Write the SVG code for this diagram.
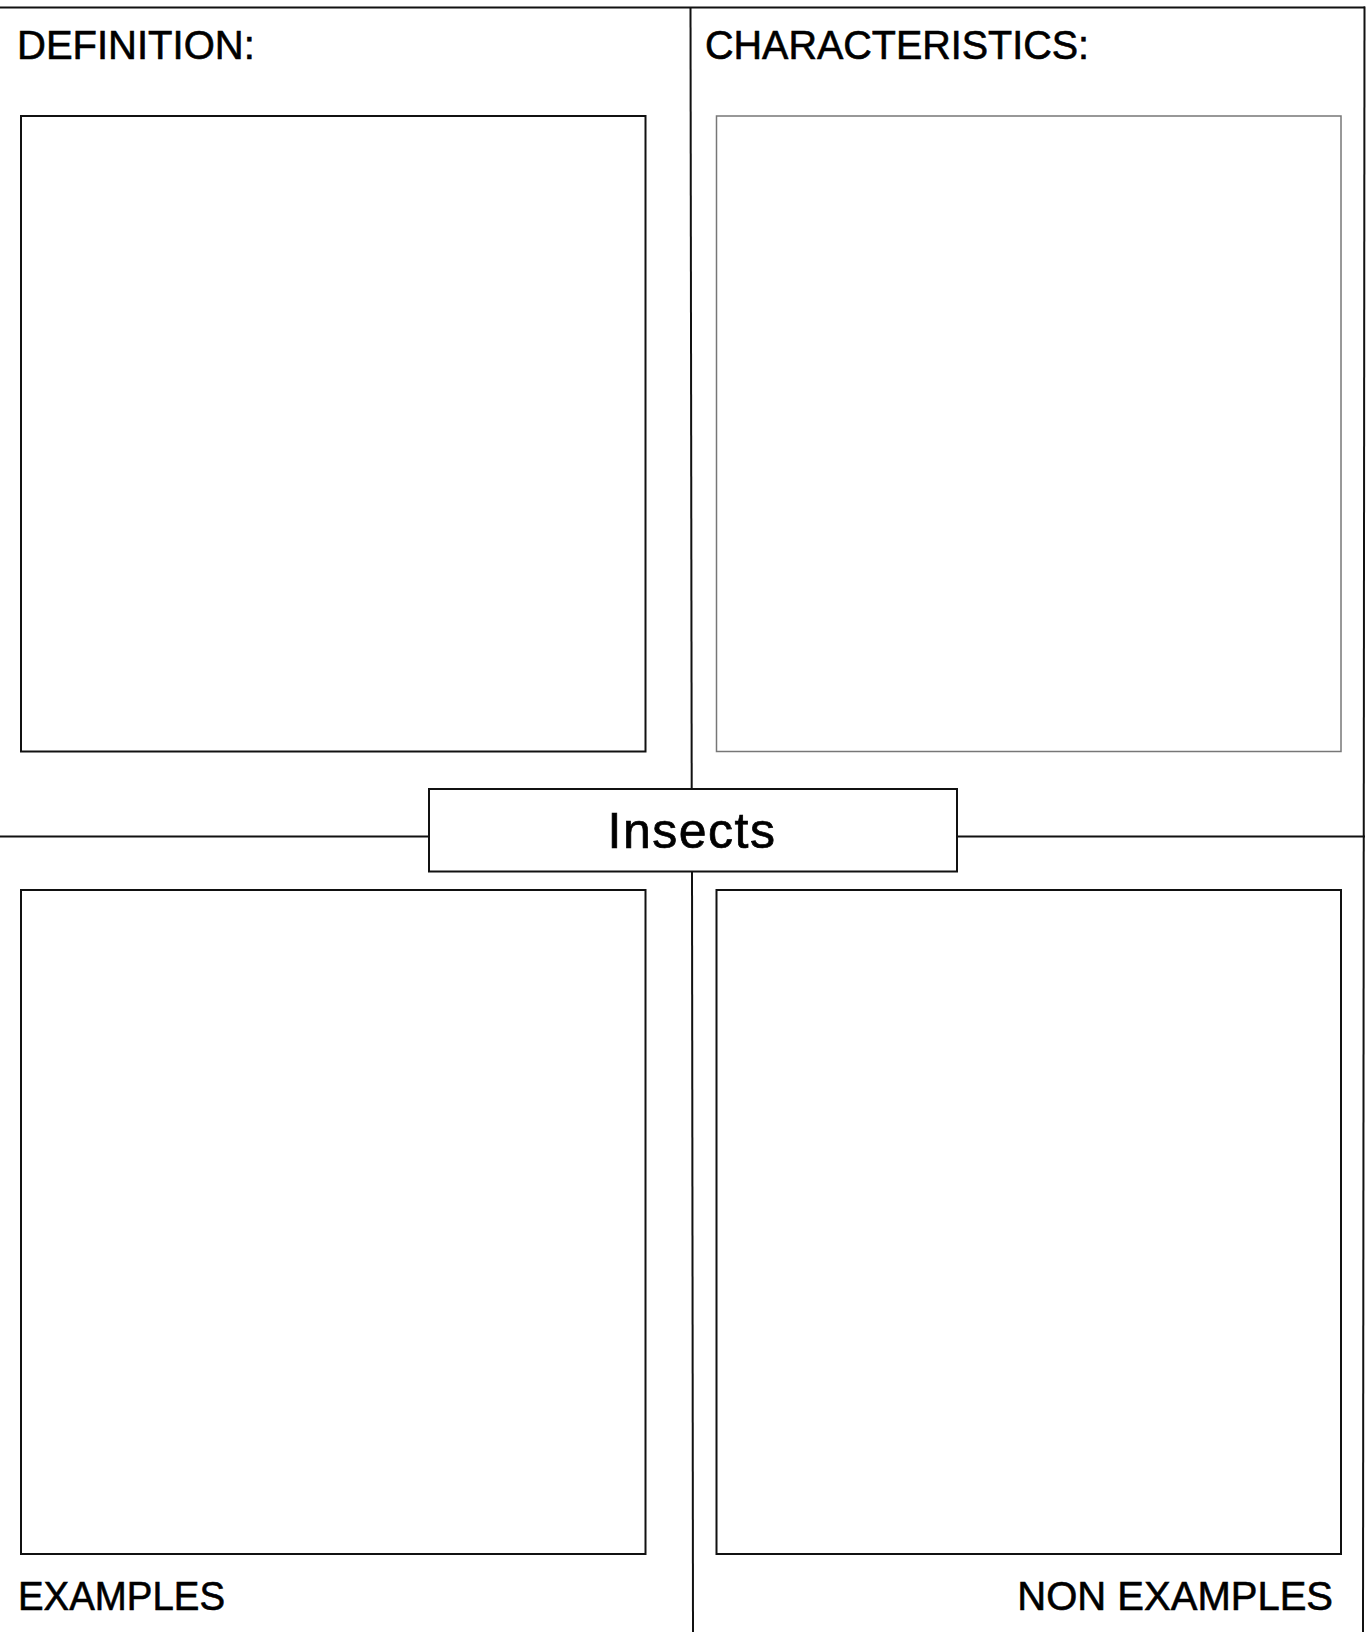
<svg xmlns="http://www.w3.org/2000/svg" width="1368" height="1632" viewBox="0 0 1368 1632">
<style>
.frame{fill:none;stroke:#111;stroke-width:2}
.box{fill:#fff;stroke:#111;stroke-width:2}
.box-gray{fill:#fff;stroke:#777;stroke-width:1.5}
.lbl{font-family:"Liberation Sans",Arial,sans-serif;font-size:40px;fill:#000;stroke:#000;stroke-width:0.6}
.title{font-family:"Liberation Sans",Arial,sans-serif;font-size:50px;fill:#000;stroke:#000;stroke-width:0.7;letter-spacing:1.5px}
</style>
<rect width="1368" height="1632" fill="#fff"/>
<g id="connectors">
<line class="frame" x1="0" y1="7.5" x2="1365" y2="7.5"/>
<line class="frame" x1="1364.5" y1="6.5" x2="1363" y2="1632"/>
<line class="frame" x1="690.5" y1="7" x2="691.7" y2="789"/>
<line class="frame" x1="692" y1="871" x2="693" y2="1632"/>
<line class="frame" x1="0" y1="836.5" x2="429" y2="836.5"/>
<line class="frame" x1="957" y1="836.5" x2="1365" y2="836.5"/>
</g>
<g id="definition">
<text class="lbl" x="17" y="59">DEFINITION:</text>
<rect class="box" x="21" y="116" width="624.5" height="635.5"/>
</g>
<g id="characteristics">
<text class="lbl" x="705" y="59" textLength="384" lengthAdjust="spacingAndGlyphs">CHARACTERISTICS:</text>
<rect class="box-gray" x="716.5" y="116" width="624.5" height="635.5"/>
</g>
<g id="insects">
<rect class="box" x="429" y="789" width="528" height="82.5"/>
<text class="title" x="692" y="847.5" text-anchor="middle">Insects</text>
</g>
<g id="examples">
<rect class="box" x="21" y="890" width="624.5" height="664"/>
<text class="lbl" x="18" y="1610" textLength="207" lengthAdjust="spacingAndGlyphs">EXAMPLES</text>
</g>
<g id="non-examples">
<rect class="box" x="716.5" y="890" width="624.5" height="664"/>
<text class="lbl" x="1333" y="1610" text-anchor="end">NON EXAMPLES</text>
</g>
</svg>
